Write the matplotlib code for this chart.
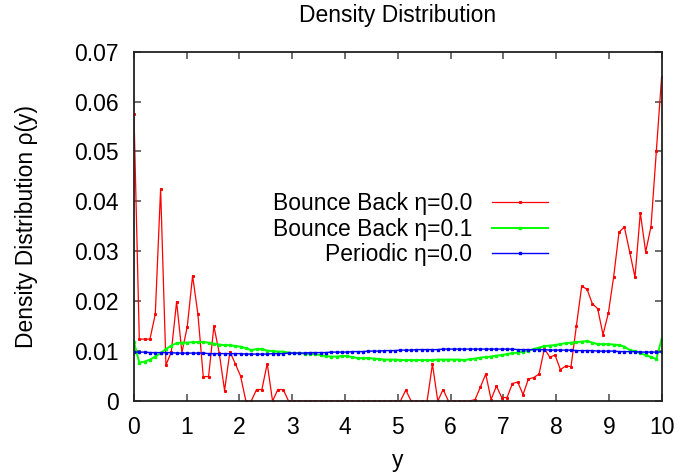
import numpy as np
import matplotlib
matplotlib.use('Agg')
import matplotlib.pyplot as plt

plt.rcParams['font.family'] = ['Liberation Sans', 'DejaVu Sans']

# sample positions across the channel
y_pos = np.linspace(0, 10, 100)

bounce_00 = [0.0575, 0.0124, 0.0124, 0.0124, 0.0174, 0.0425, 0.0072, 0.0098, 0.0199, 0.0097,
             0.0149, 0.0251, 0.0174, 0.0049, 0.0049, 0.0150, 0.0096, 0.0021, 0.0099, 0.0075,
             0.0050, 0.0, 0.0, 0.0023, 0.0023, 0.0075, 0.0, 0.0023, 0.0023, 0.0,
             0.0, 0.0, 0.0, 0.0, 0.0, 0.0, 0.0, 0.0, 0.0, 0.0,
             0.0, 0.0, 0.0, 0.0, 0.0, 0.0, 0.0, 0.0, 0.0, 0.0,
             0.0, 0.0022, 0.0, 0.0, 0.0, 0.0, 0.0074, 0.0, 0.0023, 0.0,
             0.0, 0.0, 0.0, 0.0, 0.0003, 0.0028, 0.0054, 0.0003, 0.0030, 0.0007,
             0.0007, 0.0035, 0.0038, 0.0013, 0.0044, 0.0047, 0.0054, 0.0105, 0.0088, 0.0092,
             0.0063, 0.0070, 0.0069, 0.0150, 0.0230, 0.0224, 0.0195, 0.0185, 0.0133, 0.0176,
             0.0249, 0.0338, 0.0349, 0.0299, 0.0248, 0.0377, 0.0299, 0.0349, 0.0500, 0.0650]

bounce_01 = [0.0118, 0.0077, 0.0079, 0.0083, 0.0089, 0.0096, 0.0104, 0.0111, 0.0116, 0.0117,
             0.0117, 0.0118, 0.0118, 0.0118, 0.0117, 0.0115, 0.0113, 0.0112, 0.0112, 0.0110,
             0.0109, 0.0106, 0.0102, 0.0104, 0.0104, 0.0101, 0.0100, 0.0099, 0.0099, 0.0097,
             0.0096, 0.0096, 0.0095, 0.0094, 0.0094, 0.0092, 0.0090, 0.0089, 0.0089, 0.0090,
             0.0090, 0.0088, 0.0086, 0.0086, 0.0086, 0.0085, 0.0084, 0.0083, 0.0083, 0.0083,
             0.0082, 0.0082, 0.0082, 0.0082, 0.0082, 0.0082, 0.0082, 0.0083, 0.0083, 0.0083,
             0.0083, 0.0083, 0.0082, 0.0084, 0.0085, 0.0087, 0.0088, 0.0089, 0.0091, 0.0092,
             0.0094, 0.0096, 0.0097, 0.0099, 0.0101, 0.0104, 0.0107, 0.0110, 0.0111, 0.0112,
             0.0114, 0.0116, 0.0117, 0.0118, 0.0119, 0.0120, 0.0117, 0.0114, 0.0114, 0.0114,
             0.0113, 0.0112, 0.0109, 0.0102, 0.0100, 0.0096, 0.0092, 0.0088, 0.0084, 0.0124]

periodic_00 = [0.0098, 0.0098, 0.0098, 0.0097, 0.0097, 0.0097, 0.0097, 0.0097, 0.0096, 0.0096,
               0.0096, 0.0096, 0.0096, 0.0096, 0.0095, 0.0095, 0.0095, 0.0095, 0.0095, 0.0095,
               0.0095, 0.0094, 0.0094, 0.0094, 0.0094, 0.0094, 0.0095, 0.0095, 0.0095, 0.0096,
               0.0096, 0.0096, 0.0096, 0.0097, 0.0097, 0.0097, 0.0097, 0.0098, 0.0098, 0.0098,
               0.0098, 0.0099, 0.0099, 0.0099, 0.0100, 0.0100, 0.0100, 0.0101, 0.0101, 0.0101,
               0.0102, 0.0102, 0.0102, 0.0103, 0.0103, 0.0103, 0.0103, 0.0103, 0.0104, 0.0104,
               0.0104, 0.0104, 0.0104, 0.0104, 0.0104, 0.0104, 0.0104, 0.0104, 0.0104, 0.0104,
               0.0104, 0.0104, 0.0103, 0.0103, 0.0103, 0.0103, 0.0103, 0.0103, 0.0102, 0.0102,
               0.0102, 0.0102, 0.0102, 0.0101, 0.0101, 0.0101, 0.0101, 0.0100, 0.0100, 0.0100,
               0.0100, 0.0099, 0.0099, 0.0099, 0.0099, 0.0098, 0.0098, 0.0098, 0.0098, 0.0098]

labels = ['Bounce Back \u03b7=0.0', 'Bounce Back \u03b7=0.1', 'Periodic \u03b7=0.0']

fs = 16.5
fig = plt.figure(figsize=(6.8, 4.74), dpi=100)
ax = fig.add_axes([0.197, 0.154, 0.776, 0.737])

ax.plot(y_pos, bounce_00, color='#ff0000', lw=0.9, marker='s', ms=1.2, label=labels[0])
ax.plot(y_pos, bounce_01, color='#00ff00', lw=1.4, marker='s', ms=1.7, label=labels[1])
ax.plot(y_pos, periodic_00, color='#0000ff', lw=1.0, marker='s', ms=1.7, label=labels[2])

ax.set_xlim(0, 10)
ax.set_ylim(0, 0.07)
ax.set_xticks(range(0, 11))
ax.set_yticks([0, 0.01, 0.02, 0.03, 0.04, 0.05, 0.06, 0.07])
ax.set_yticklabels(['0', '0.01', '0.02', '0.03', '0.04', '0.05', '0.06', '0.07'])
ax.tick_params(direction='in', top=True, right=True, length=5, width=1.2,
               color='#555555', labelsize=fs)
ax.tick_params(axis='x', pad=11)
ax.tick_params(axis='y', pad=11)
for sp in ax.spines.values():
    sp.set_linewidth(1.3)
    sp.set_color('#222222')

ax.set_title('Density Distribution', fontsize=fs, pad=21)
ax.set_xlabel('y', fontsize=fs, labelpad=7)
ax.set_ylabel('Density Distribution \u03c1(y)', fontsize=fs, labelpad=26)

ax.legend(loc='center right', bbox_to_anchor=(0.784, 0.492), frameon=False,
          markerfirst=False, fontsize=fs, handlelength=2.45, handletextpad=0.85,
          labelspacing=0.1, borderpad=0, borderaxespad=0, markerscale=1.0)

fig.savefig('out.png', dpi=100)
